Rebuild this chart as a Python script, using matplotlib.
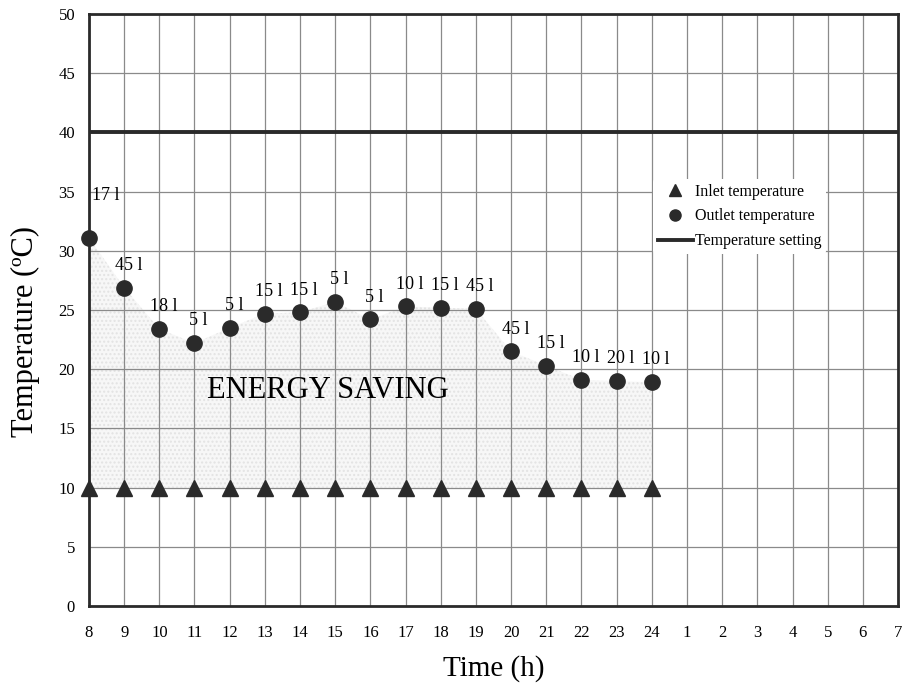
import matplotlib.pyplot as plt
import numpy as np

plt.rcParams['font.family'] = ['Liberation Serif', 'DejaVu Serif']

# hours of the day, 8 o'clock through 7 o'clock next morning
hours = ['8', '9', '10', '11', '12', '13', '14', '15', '16', '17', '18', '19',
         '20', '21', '22', '23', '24', '1', '2', '3', '4', '5', '6', '7']

# measured hours only (8 .. 24)
inlet_temp = [10, 10, 10, 10, 10, 10, 10, 10, 10, 10, 10, 10, 10, 10, 10, 10, 10]
outlet_temp = [31.1, 26.9, 23.4, 22.2, 23.5, 24.7, 24.8, 25.7, 24.2, 25.3, 25.2,
               25.1, 21.5, 20.3, 19.1, 19.0, 18.9]
volumes = ['17 l', '45 l', '18 l', '5 l', '5 l', '15 l', '15 l', '5 l', '5 l',
           '10 l', '15 l', '45 l', '45 l', '15 l', '10 l', '20 l', '10 l']
setting_temp = 40

fig = plt.figure(figsize=(9.05, 6.84), dpi=100)
ax = fig.add_axes([0.0983, 0.114, 0.894, 0.8655])

x_all = np.arange(len(hours))
x = np.arange(len(outlet_temp))

# grid
ax.set_xlim(0, len(hours) - 1)
ax.set_ylim(0, 50)
ax.set_xticks(x_all)
ax.set_xticklabels(hours)
ax.set_yticks(np.arange(0, 51, 5))
ax.grid(True, color='#8a8a8a', linewidth=0.9)
ax.tick_params(length=0, labelsize=12, pad=14)
ax.tick_params(axis='y', pad=10)
for s in ax.spines.values():
    s.set_linewidth(2.0)
    s.set_color('#2a2a2a')

# energy saving area between inlet and outlet
ax.fill_between(x, inlet_temp, outlet_temp, facecolor='#f7f7f7', edgecolor='#e3e3e3',
                hatch='....', linewidth=0, zorder=1)

ax.axhline(setting_temp, color='#2a2a2a', linewidth=2.8, zorder=3,
           label='Temperature setting')
ax.plot(x, inlet_temp, linestyle='none', marker='^', markersize=11,
        color='#2a2a2a', zorder=4, clip_on=False, label='Inlet temperature')
ax.plot(x, outlet_temp, linestyle='none', marker='o', markersize=11,
        color='#2a2a2a', zorder=4, clip_on=False, label='Outlet temperature')

for i, (xi, yi, v) in enumerate(zip(x, outlet_temp, volumes)):
    if i == 0:
        ax.annotate(v, (xi, yi), xytext=(2, 24), textcoords='offset points',
                    ha='left', va='bottom', fontsize=13)
    else:
        ax.annotate(v, (xi, yi), xytext=(3, 10), textcoords='offset points',
                    ha='center', va='bottom', fontsize=13)

ax.text(6.8, 18.2, 'ENERGY SAVING', fontsize=22, ha='center', va='center', zorder=5)

ax.set_xlabel('Time (h)', fontsize=21, labelpad=10)
ax.set_ylabel('Temperature (ºC)', fontsize=22)
ax.yaxis.set_label_coords(-0.061, 0.463)

handles, labels = ax.get_legend_handles_labels()
order = [1, 2, 0]
leg = ax.legend([handles[i] for i in order], [labels[i] for i in order],
                loc='upper left', bbox_to_anchor=(0.687, 0.735), fontsize=11.5,
                frameon=True, facecolor='white', edgecolor='white', framealpha=1,
                handlelength=2.2, borderpad=0.3, labelspacing=0.55, handletextpad=0.15)
leg.get_frame().set_linewidth(0)
for h in leg.legend_handles[:2]:
    h.set_markersize(8)

fig.savefig('out.png', dpi=100)
